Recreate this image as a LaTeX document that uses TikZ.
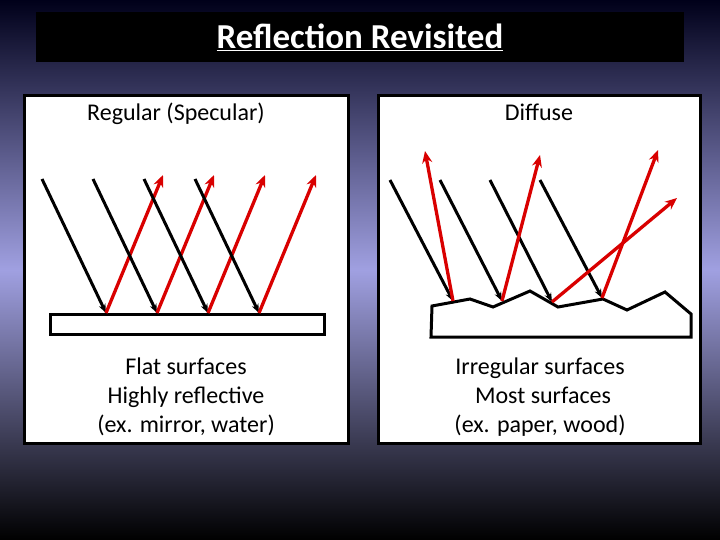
\documentclass[tikz,border=0pt]{standalone}
\usepackage{fontspec}
\setmainfont{Carlito}
\usetikzlibrary{arrows.meta}
\begin{document}
\begin{tikzpicture}[x=1pt,y=-1pt,
  panel/.style={draw=black,line width=3pt,fill=white},
  inc/.style={line width=3pt,-{Stealth[length=9pt,width=7pt]}},
  refl/.style={draw=red!85!black,line width=3.3pt,-{Stealth[length=12pt,width=10pt]}},
  lab/.style={font=\fontsize{24}{28}\selectfont,anchor=base},
  surf/.style={draw=black,line width=3pt,fill=white}]
\shade[top color=black!90!blue,bottom color=black,middle color={rgb,255:red,160;green,160;blue,225}] (0,0) rectangle (720,540);
\useasboundingbox (0,0) rectangle (720,540);
\fill[black] (36,12) rectangle (684,62);
\node[lab,text=white,font=\fontsize{35}{40}\bfseries] (title) at (360,49) {\underline{Reflection Revisited}};
% left panel
\draw[panel] (24,96) rectangle (348,443);
\node[lab] (lh) at (176,121) {Regular (Specular)};
\draw[surf] (50,314) rectangle (324,334);
\foreach \i/\s in {0/106,1/157,2/208,3/259}{
  \coordinate (ls\i) at ({\s-64},179);
  \coordinate (lp\i) at (\s,313);
  \coordinate (lr\i) at ({\s+57},175);
  \draw[inc] (ls\i) -- (lp\i);
  \draw[refl] (lp\i) -- (lr\i);
}
\node[lab] (l1) at (186,374) {Flat surfaces};
\node[lab] (l2) at (186,403) {Highly reflective};
\node[lab] (l3) at (186,432) {(ex. mirror, water)};
% right panel
\draw[panel] (378,96) rectangle (700,443);
\node[lab] (rh) at (539,121) {Diffuse};
\draw[surf] (432,306) -- (470,299) -- (493,307) -- (530,291) -- (558,307) -- (603,299) -- (627,310) -- (665,292) -- (691,314) -- (691,337) -- (431,337) -- cycle;
\coordinate (a1) at (390,180); \coordinate (p1) at (453,301);
\coordinate (a2) at (440,180); \coordinate (p2) at (502,301);
\coordinate (a3) at (490,180); \coordinate (p3) at (552,302);
\coordinate (a4) at (540,180); \coordinate (p4) at (602,298);
\coordinate (t1) at (425,151); \coordinate (t2) at (540,155);
\coordinate (t3) at (677,198); \coordinate (t4) at (658,150);
\foreach \i in {1,2,3,4}{\draw[inc] (a\i) -- (p\i);}
\foreach \i in {1,2,3,4}{\draw[refl] (p\i) -- (t\i);}
\node[lab] (r1) at (540,374) {Irregular surfaces};
\node[lab] (r2) at (543,403) {Most surfaces};
\node[lab] (r3) at (540,432) {(ex. paper, wood)};
\end{tikzpicture}
\end{document}
